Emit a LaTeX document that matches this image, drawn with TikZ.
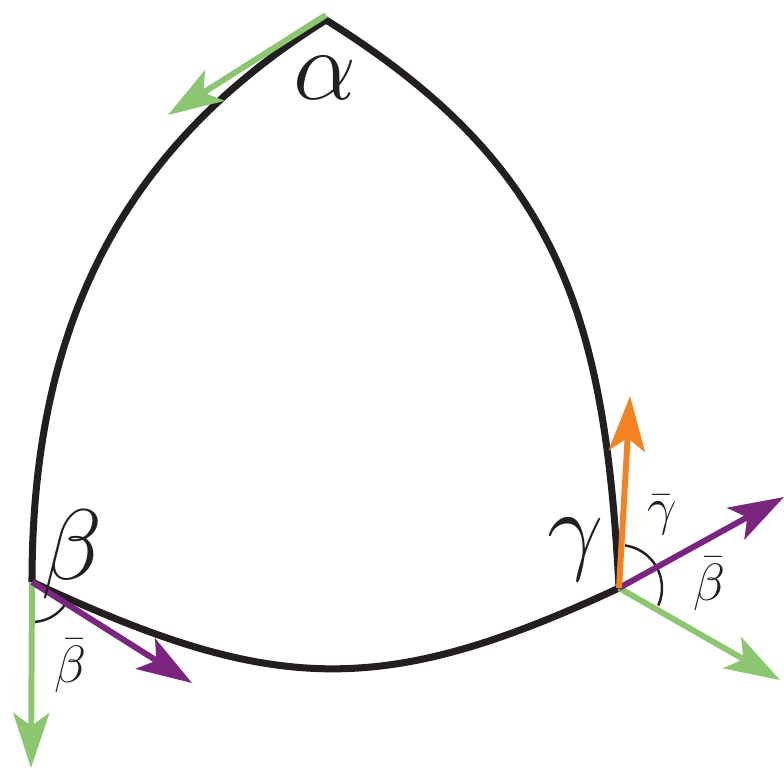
\documentclass[tikz,border=0pt]{standalone}
\usepackage{tikz}
\usetikzlibrary{arrows.meta}
\definecolor{vecgreen}{RGB}{141, 198, 112}
\definecolor{vecpurple}{RGB}{122, 38, 128}
\definecolor{vecorange}{RGB}{245, 130, 32}
\definecolor{edgeblack}{RGB}{35, 31, 32}

\begin{document}
\begin{tikzpicture}[
    edge/.style={line width=4pt, edgeblack, line join=miter},
    vec/.style={line width=3.4pt, -{Stealth[length=11mm, width=7.2mm, inset=2.6mm]}},
    anglearc/.style={line width=1.4pt, edgeblack},
    biglab/.style={inner sep=0pt, edgeblack, font=\Huge, scale=2.29},
    smalllab/.style={inner sep=0pt, edgeblack, font=\Huge, scale=1.2}
  ]
  \useasboundingbox (0, 0) rectangle (15.68, 15.4);

  % Vertices
  \coordinate (alphaV) at (6.52, 15.0);
  \coordinate (betaV) at (0.64, 3.76);
  \coordinate (gammaV) at (12.38, 3.64);

  % Arrow ends
  \coordinate (alphaStart) at (6.52, 15.1);
  \coordinate (alphaEnd) at (3.36, 13.1);
  \coordinate (betaDown) at (0.62, 0.04);
  \coordinate (betaSide) at (3.84, 1.74);
  \coordinate (gammaUp) at (12.6, 7.48);
  \coordinate (gammaSide) at (15.68, 5.46);
  \coordinate (gammaDown) at (15.6, 1.8);

  % Curved triangle
  \draw[edge] (betaV) to[out=-25, in=205, looseness=1.15] (gammaV)
    to[out=93, in=-32, looseness=1.1] (alphaV)
    to[out=212, in=90] (betaV);

  % Angle arcs
  \draw[anglearc] ([shift={(270:0.8)}]betaV) arc (270:328:0.8);
  \draw[anglearc] ([shift={(-24:0.86)}]gammaV) arc (-24:82:0.86);

  % Vectors
  \draw[vec, vecgreen] (alphaStart) -- (alphaEnd);
  \draw[vec, vecgreen] (betaV) -- (betaDown);
  \draw[vec, vecpurple] (betaV) -- (betaSide);
  \draw[vec, vecgreen] (gammaV) -- (gammaDown);
  \draw[vec, vecpurple] (gammaV) -- (gammaSide);
  \draw[vec, vecorange] (gammaV) -- (gammaUp);

  % Labels
  \node[biglab] (alphaLab) at (6.5, 13.84) {$\alpha$};
  \node[biglab] (betaLab) at (1.44, 4.32) {$\beta$};
  \node[biglab] (gammaLab) at (11.52, 4.4) {$\gamma$};
  \node[smalllab] (betaBarL) at (1.4, 2.08) {$\bar{\beta}$};
  \node[smalllab] (betaBarR) at (14.18, 3.72) {$\bar{\beta}$};
  \node[smalllab] (gammaBar) at (13.24, 5.1) {$\bar{\gamma}$};
\end{tikzpicture}
\end{document}
